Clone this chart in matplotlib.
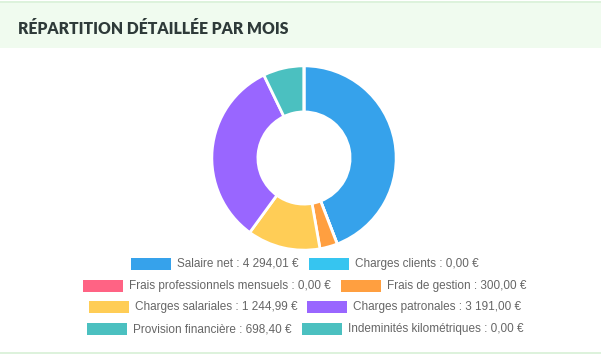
import matplotlib
matplotlib.use("Agg")
import matplotlib.pyplot as plt
from matplotlib.patches import Rectangle

labels = ["Salaire net", "Charges clients", "Frais professionnels mensuels",
          "Frais de gestion", "Charges salariales", "Charges patronales",
          "Provision financière", "Indeminités kilométriques"]
valeurs = [4294.01, 0.00, 0.00, 300.00, 1244.99, 3191.00, 698.40, 0.00]
couleurs = ["#36A2EB", "#36C5F0", "#FF6384", "#FF9F40",
            "#FFCD56", "#9966FF", "#4BC0C0", "#4BC0C0"]
textes = ["Salaire net : 4 294,01 €", "Charges clients : 0,00 €",
          "Frais professionnels mensuels : 0,00 €", "Frais de gestion : 300,00 €",
          "Charges salariales : 1 244,99 €", "Charges patronales : 3 191,00 €",
          "Provision financière : 698,40 €", "Indeminités kilométriques : 0,00 €"]

W, H = 601, 356
fig = plt.figure(figsize=(W / 100, H / 100), dpi=100)
fig.patch.set_facecolor("white")

# calque en pixels pour l'entête et la légende
bg = fig.add_axes([0, 0, 1, 1])
bg.set_xlim(0, W)
bg.set_ylim(H, 0)
bg.axis("off")

bg.add_patch(Rectangle((0, 2), W, 46, facecolor="#F0FBEF", edgecolor="none"))
bg.add_patch(Rectangle((0, 1), W, 1.5, facecolor="#DDF2DC", edgecolor="none"))
bg.add_patch(Rectangle((0, 352), W, 2, facecolor="#DDF2DC", edgecolor="none"))
bg.text(18, 29, "RÉPARTITION DÉTAILLÉE PAR MOIS", fontsize=11.3, fontweight="heavy",
        family="Lato", color="#2E3A39", va="center", ha="left")

# donut
cx, cy, r = 304, 158, 94
ax = fig.add_axes([(cx - r) / W, (H - cy - r) / H, 2 * r / W, 2 * r / H])
ax.pie(valeurs, colors=couleurs, startangle=90, counterclock=False, radius=1,
       wedgeprops=dict(width=0.5, edgecolor="white", linewidth=2))
ax.set_xlim(-1.02, 1.02)
ax.set_ylim(-1.02, 1.02)
ax.set_aspect("auto")

# légende centrée ligne par ligne, deux éléments par ligne
renderer = fig.canvas.get_renderer()
box_w, box_h, pad, gap = 40, 12, 6, 10
fs = 8.45
rows_y = [264, 285.5, 307, 329]
for i, y in enumerate(rows_y):
    items = [2 * i, 2 * i + 1]
    widths = []
    for k in items:
        t = bg.text(0, 0, textes[k], fontsize=fs, family="Liberation Sans")
        widths.append(t.get_window_extent(renderer).width)
        t.remove()
    total = sum(box_w + pad + w for w in widths) + gap
    x = cx + 1 - total / 2
    for k, w in zip(items, widths):
        bg.add_patch(Rectangle((x, y - box_h / 2), box_w, box_h,
                               facecolor=couleurs[k], edgecolor="none"))
        bg.text(x + box_w + pad, y, textes[k], fontsize=fs, family="Liberation Sans",
                color="#666666", va="center", ha="left")
        x += box_w + pad + w + gap

fig.savefig("out.png", dpi=100)
